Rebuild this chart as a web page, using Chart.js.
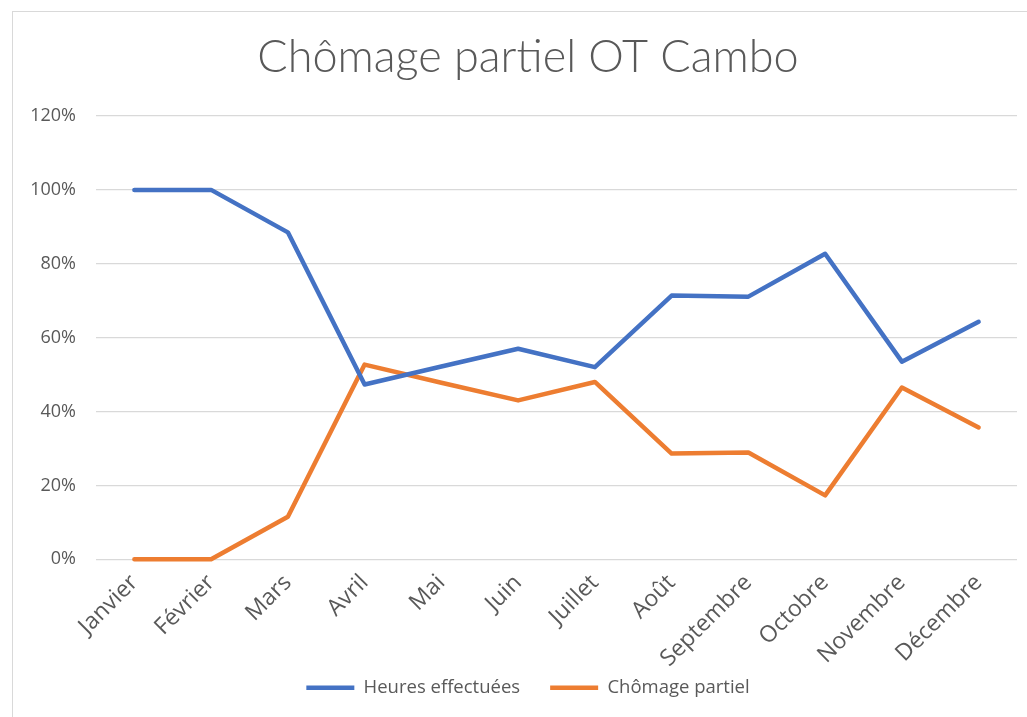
<!DOCTYPE html>
<html>
<head>
<meta charset="utf-8">
<script src="https://cdn.jsdelivr.net/npm/chart.js@4/dist/chart.umd.min.js"></script>
<style>
  html, body { margin: 0; padding: 0; background: #fff; overflow: hidden; }
  #frame {
    position: absolute; left: 12px; top: 11px;
    width: 1032px; height: 720px;
    border: 1px solid #d9d9d9; box-sizing: border-box;
  }
  #chart { display: block; }
</style>
</head>
<body>
<div id="frame"><canvas id="chart" width="1030" height="718"></canvas></div>
<script>
const months = ["Janvier", "Février", "Mars", "Avril", "Mai", "Juin", "Juillet", "Août", "Septembre", "Octobre", "Novembre", "Décembre"];
const heuresEffectuees = [1.00, 1.00, 0.885, 0.473, 0.522, 0.570, 0.520, 0.714, 0.711, 0.827, 0.535, 0.643];
const chomagePartiel = [0.00, 0.00, 0.115, 0.527, 0.478, 0.430, 0.480, 0.286, 0.289, 0.173, 0.465, 0.357];

const grey = "#595959";

// wider gap between legend items without making the legend box taller,
// and nudge the title a little to the right (Excel centres it on the frame)
const tweaks = {
    id: "tweaks",
    beforeDraw(chart) {
        const lg = chart.legend;
        try {
            lg.options.labels.padding = 30;
            lg.top -= 26;
            lg.lineWidths[0] += 44;
        } catch (e) {}
        const t = chart.titleBlock;
        if (t) { t.left += 4; t.right += 4; }
    },
};

new Chart(document.getElementById("chart"), {
    type: "line",
    data: {
        labels: months,
        datasets: [
            {
                label: "Heures effectuées",
                data: heuresEffectuees,
                borderColor: "#4472C4",
                backgroundColor: "#4472C4",
                borderWidth: 4.5,
                borderCapStyle: "round",
                borderJoinStyle: "round",
                pointRadius: 0,
                tension: 0,
                clip: 8,
            },
            {
                label: "Chômage partiel",
                data: chomagePartiel,
                borderColor: "#ED7D31",
                backgroundColor: "#ED7D31",
                borderWidth: 4.5,
                borderCapStyle: "round",
                borderJoinStyle: "round",
                pointRadius: 0,
                tension: 0,
                clip: 8,
            },
        ],
    },
    options: {
        responsive: false,
        animation: false,
        layout: { autoPadding: false, padding: { left: 18, right: 26, top: 6, bottom: 23 } },
        scales: {
            x: {
                offset: true,
                grid: { display: false },
                border: { display: false },
                ticks: {
                    color: grey,
                    font: { family: "Open Sans", size: 23 },
                    minRotation: 45,
                    maxRotation: 45,
                    padding: 2,
                },
                afterFit: (scale) => { scale.paddingLeft = 0; },
            },
            y: {
                min: 0,
                max: 1.2,
                grid: { color: "#d9d9d9", lineWidth: 1.3, drawTicks: false },
                border: { display: false },
                ticks: {
                    stepSize: 0.2,
                    color: grey,
                    padding: 20,
                    font: { family: "Open Sans", size: 18 },
                    callback: (v) => Math.round(v * 100) + "%",
                },
                afterFit: (scale) => { scale.width = 65; },
            },
        },
        plugins: {
            title: {
                display: true,
                text: "Chômage partiel OT Cambo",
                color: grey,
                font: { family: "Lato", size: 45, weight: "300" },
                padding: { top: 12, bottom: 32 },
            },
            legend: {
                position: "bottom",
                labels: {
                    color: grey,
                    font: { family: "Open Sans", size: 18.5 },
                    usePointStyle: true,
                    pointStyle: "line",
                    pointStyleWidth: 48,
                    padding: 4,
                },
            },
            tooltip: { enabled: false },
        },
    },
    plugins: [tweaks],
});
</script>
</body>
</html>
